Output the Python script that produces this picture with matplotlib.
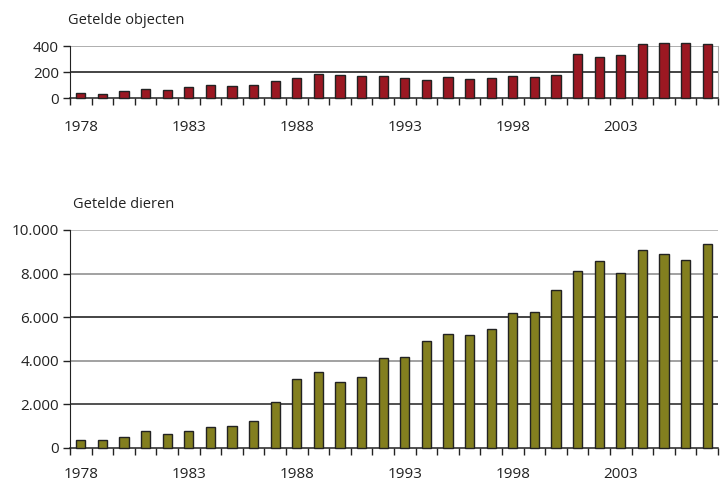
import numpy as np
import matplotlib
matplotlib.use("Agg")
import matplotlib.pyplot as plt
from matplotlib.ticker import FuncFormatter

plt.rcParams['font.family'] = ['Open Sans', 'DejaVu Sans']

years = list(range(1978, 2008))
objecten = [38, 33, 54, 67, 61, 84, 102, 92, 102, 131, 154, 182, 174, 172, 169,
            154, 138, 161, 148, 154, 169, 159, 179, 335, 312, 333, 417, 425, 422, 412]
dieren = [352, 383, 490, 781, 643, 781, 949, 1010, 1240, 2113, 3154, 3491, 3016, 3276, 4118,
          4164, 4930, 5236, 5205, 5481, 6201, 6246, 7241, 8099, 8589, 8007, 9079, 8895, 8619, 9354]
label_years = [1978, 1983, 1988, 1993, 1998, 2003]


def dotted(v, pos):
    return f"{int(v):,}".replace(",", ".")


def style_axis(ax, values, color, yticks, gridcolors, label_pad):
    x = np.arange(len(years))
    ax.bar(x, values, width=0.42, color=color, edgecolor='#222222', linewidth=1.0,
           zorder=3, clip_on=False)
    ax.set_xlim(-0.5, len(years) - 0.5)
    ax.set_ylim(0, yticks[-1])
    # horizontal lines, alternating grey/black like the original
    for y, c in zip(yticks[1:], gridcolors):
        ax.axhline(y, color=c, linewidth=1.1, zorder=1)
    ax.set_yticks(yticks)
    ax.yaxis.set_major_formatter(FuncFormatter(dotted))
    ax.tick_params(axis='y', length=5, width=1, labelsize=11, pad=3, colors='#222222')
    # boundary ticks without labels, year labels in between
    ax.set_xticks(np.arange(-0.5, len(years), 1))
    ax.set_xticklabels([])
    ax.set_xticks([years.index(y) for y in label_years], minor=True)
    ax.set_xticklabels([str(y) for y in label_years], minor=True)
    ax.tick_params(axis='x', which='major', length=5, width=1, color='#222222', direction='out')
    ax.tick_params(axis='x', which='minor', length=0, labelsize=11, pad=label_pad,
                   labelcolor='#222222')
    ax.spines['top'].set_visible(False)
    ax.spines['left'].set_color('#222222')
    ax.spines['bottom'].set_color('#222222')
    ax.spines['bottom'].set_linewidth(1.1)


fig = plt.figure(figsize=(7.2, 4.84), dpi=100)

ax1 = fig.add_axes([0.0972, 0.7975, 0.9, 0.1074])
style_axis(ax1, objecten, '#9b1822', [0, 200, 400], ['#111111', '#999999'], 16)
ax1.spines['right'].set_color('#aaaaaa')

ax2 = fig.add_axes([0.0972, 0.0744, 0.9, 0.4504])
style_axis(ax2, dieren, '#837f1f', [0, 2000, 4000, 6000, 8000, 10000],
           ['#222222', '#888888', '#111111', '#888888', '#aaaaaa'], 14)
ax2.spines['right'].set_visible(False)

fig.text(0.094, 1 - 20 / 484, 'Getelde objecten', fontsize=10.5, color='#222222', va='center')
fig.text(0.102, 1 - 205 / 484, 'Getelde dieren', fontsize=10.5, color='#222222', va='center')

fig.savefig('out.png', dpi=100)
